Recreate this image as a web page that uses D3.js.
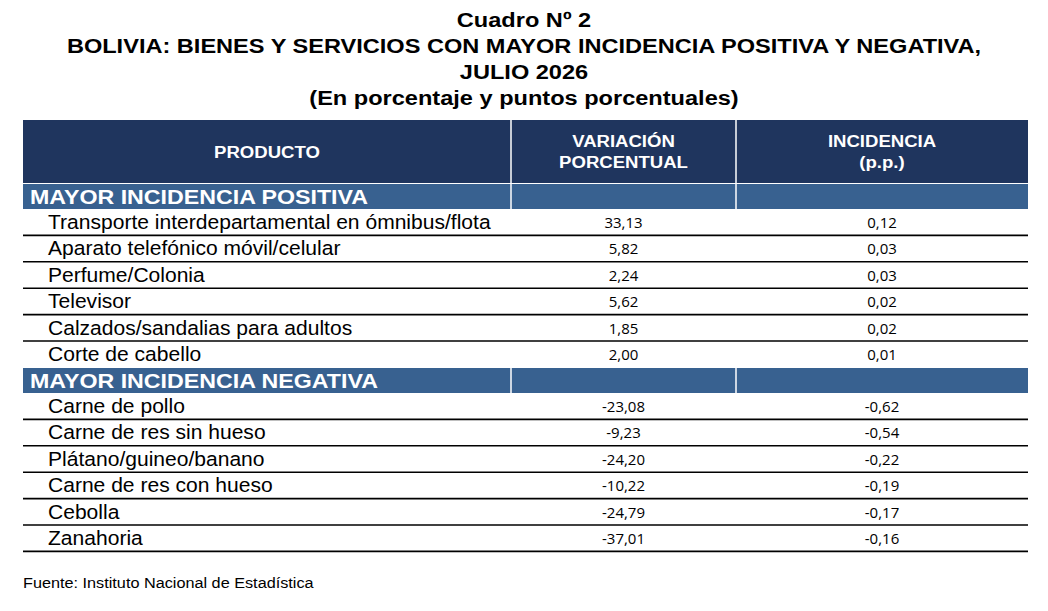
<!DOCTYPE html><html><head><meta charset="utf-8">
<script src="https://cdn.jsdelivr.net/npm/d3@7"></script>
<style>body{margin:0;background:#fff}</style></head><body>
<svg id="c" width="1048" height="611"></svg>
<script>
const titles=["Cuadro Nº 2","BOLIVIA: BIENES Y SERVICIOS CON MAYOR INCIDENCIA POSITIVA Y NEGATIVA,","JULIO 2026","(En porcentaje y puntos porcentuales)"];
const headers=[["PRODUCTO"],["VARIACIÓN","PORCENTUAL"],["INCIDENCIA","(p.p.)"]];
const sections=["MAYOR INCIDENCIA POSITIVA","MAYOR INCIDENCIA NEGATIVA"];
const posProducts=["Transporte interdepartamental en ómnibus/flota","Aparato telefónico móvil/celular","Perfume/Colonia","Televisor","Calzados/sandalias para adultos","Corte de cabello"];
const posVar=[33.13,5.82,2.24,5.62,1.85,2.00];
const posInc=[0.12,0.03,0.03,0.02,0.02,0.01];
const negProducts=["Carne de pollo","Carne de res sin hueso","Plátano/guineo/banano","Carne de res con hueso","Cebolla","Zanahoria"];
const negVar=[-23.08,-9.23,-24.20,-10.22,-24.79,-37.01];
const negInc=[-0.62,-0.54,-0.22,-0.19,-0.17,-0.16];
const source="Fuente: Instituto Nacional de Estadística";

const svg=d3.select("#c");
const F="Liberation Sans, Arial, sans-serif", N="Open Sans, Liberation Sans, sans-serif";
const fmt=v=>d3.format(".2f")(v).replace("\u2212","-").replace(".",",");
function txt(x,y,s,o){
  const t=svg.append("text").attr("transform",`translate(${x},${y}) scale(${o.sx||1},1)`)
    .attr("font-family",o.ff||F).attr("font-size",o.fs).attr("text-anchor",o.a||"start")
    .attr("fill",o.c||"#000").text(s);
  if(o.b) t.attr("font-weight","bold");
  return t;
}
const xs=[23,511,736,1028];
const ty=[27,53,79,105];
titles.forEach((t,i)=>txt(524,ty[i],t,{fs:20.5,sx:1.15,a:"middle",b:1}));
const hTop=120,hBot=183;
svg.append("rect").attr("x",xs[0]).attr("y",hTop).attr("width",xs[3]-xs[0]).attr("height",hBot-hTop).attr("fill","#1f355e");
headers.forEach((h,i)=>{const cx=(xs[i]+xs[i+1])/2;
  h.forEach((l,j)=>txt(cx,(hTop+hBot)/2+6+(j-(h.length-1)/2)*21,l,{fs:16,sx:1.16,a:"middle",b:1,c:"#fff"}));});
[1,2].forEach(i=>svg.append("line").attr("x1",xs[i]).attr("x2",xs[i]).attr("y1",hTop).attr("y2",hBot).attr("stroke","#fff").attr("stroke-width",1.5));
const rowH=26.4;
function section(y0,name,prods,vars,incs){
  svg.append("rect").attr("x",xs[0]).attr("y",y0).attr("width",xs[3]-xs[0]).attr("height",25).attr("fill","#386190");
  [1,2].forEach(i=>svg.append("line").attr("x1",xs[i]).attr("x2",xs[i]).attr("y1",y0).attr("y2",y0+25).attr("stroke","#fff").attr("stroke-width",1.5));
  txt(30,y0+19.5,name,{fs:19.5,sx:1.19,b:1,c:"#fff"});
  const ys=d3.scaleBand().domain(d3.range(prods.length)).range([y0+25,y0+25+rowH*prods.length]);
  prods.forEach((p,i)=>{const y=ys(i);
    txt(48,y+20,p,{fs:19.5,sx:1.08});
    txt((xs[1]+xs[2])/2,y+19,fmt(vars[i]),{fs:15,ff:N,a:"middle"});
    txt((xs[2]+xs[3])/2,y+19,fmt(incs[i]),{fs:15,ff:N,a:"middle"});
  });
  return ys;
}
const y1=section(184,sections[0],posProducts,posVar,posInc);
d3.range(5).forEach(i=>svg.append("line").attr("x1",xs[0]).attr("x2",xs[3]).attr("y1",y1(i)+rowH).attr("y2",y1(i)+rowH).attr("stroke","#000").attr("stroke-width",1.6));
const y2=section(368,sections[1],negProducts,negVar,negInc);
d3.range(6).forEach(i=>svg.append("line").attr("x1",xs[0]).attr("x2",xs[3]).attr("y1",y2(i)+rowH).attr("y2",y2(i)+rowH).attr("stroke","#000").attr("stroke-width",1.6));
txt(23,588,source,{fs:14,sx:1.16});
</script></body></html>
